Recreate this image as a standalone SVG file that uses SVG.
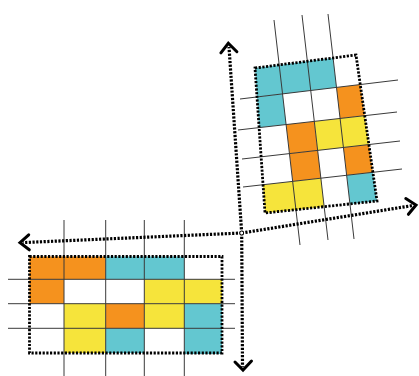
<svg xmlns="http://www.w3.org/2000/svg" width="419" height="376" viewBox="0 0 419 376">
<style>
.o{fill:#F5921E}
.c{fill:#63C7D0}
.y{fill:#F6E43B}
.g{stroke:#3a3a3a;stroke-width:1;fill:none}
.b{stroke:#000;stroke-width:2.8;stroke-dasharray:2.2 1.5;fill:none}
.ax{stroke:#000;stroke-width:3.2;stroke-dasharray:2.2 1.5;fill:none}
.ah{stroke:#000;stroke-width:3;fill:none;stroke-linecap:round;stroke-linejoin:miter}
</style>
<rect width="419" height="376" fill="#fff"/>
<g id="grid-upper">
<polygon class="c" points="255,68 279.2,64.9 307.4,61.2 333.1,57.9 336.5,87.4 310.8,90.5 282.6,93.9 257,97"/>
<polygon class="c" points="257,97 282.6,93.9 286.1,124.6 259.1,127.6"/>
<polygon class="o" points="336.5,87.4 360.3,84.6 364.7,115.7 340.1,118.5"/>
<polygon class="o" points="286.1,124.6 314.3,121.4 317.7,150.4 289.5,153.6"/>
<polygon class="y" points="314.3,121.4 340.1,118.5 364.7,115.7 368.9,144.5 343.4,147.5 317.7,150.4"/>
<polygon class="o" points="289.5,153.6 317.7,150.4 320.9,178.2 292.7,181.4"/>
<polygon class="o" points="343.4,147.5 368.9,144.5 372.9,172.4 346.7,175.3"/>
<polygon class="y" points="263,184.8 292.7,181.4 320.9,178.2 324.2,206.7 295.9,209.7 265,213"/>
<polygon class="c" points="346.7,175.3 372.9,172.4 377,201.1 350,204"/>
<line class="g" x1="274" y1="20" x2="300" y2="245"/>
<line class="g" x1="302" y1="15" x2="328" y2="240"/>
<line class="g" x1="328" y1="14" x2="354" y2="239"/>
<line class="g" x1="240" y1="99" x2="398" y2="80"/>
<line class="g" x1="238" y1="130" x2="397" y2="112"/>
<line class="g" x1="242" y1="159" x2="400" y2="141"/>
<line class="g" x1="243" y1="187" x2="402" y2="169"/>
<polygon class="b" points="255,68 356,55 377,201 265,213"/>
</g>
<g id="grid-lower">
<rect class="o" x="29.5" y="256.5" width="76.2" height="22.8"/>
<rect class="o" x="29.5" y="279.3" width="34.5" height="24.4"/>
<rect class="c" x="105.7" y="256.5" width="78.6" height="22.8"/>
<rect class="y" x="144.3" y="279.3" width="77.7" height="24.4"/>
<rect class="y" x="64" y="303.7" width="41.7" height="49.3"/>
<rect class="o" x="105.7" y="303.7" width="38.6" height="24.6"/>
<rect class="y" x="144.3" y="303.7" width="40" height="24.6"/>
<rect class="c" x="184.3" y="303.7" width="37.7" height="50.3"/>
<rect class="c" x="105.7" y="328.3" width="38.6" height="24.7"/>
<line class="g" x1="64" y1="220" x2="64" y2="376"/>
<line class="g" x1="105.7" y1="220" x2="105.7" y2="376"/>
<line class="g" x1="144.3" y1="220" x2="144.3" y2="376"/>
<line class="g" x1="184.3" y1="220" x2="184.3" y2="376"/>
<line class="g" x1="8" y1="279.3" x2="235" y2="279.3"/>
<line class="g" x1="8" y1="303.7" x2="235" y2="303.7"/>
<line class="g" x1="8" y1="328.3" x2="235" y2="328.3"/>
<rect class="b" x="29.5" y="256.5" width="192.5" height="96.5"/>
</g>
<g id="connectors">
<line class="ax" x1="241.7" y1="233" x2="229" y2="47"/>
<line class="ax" x1="241.7" y1="233" x2="242.5" y2="367"/>
<line class="ax" x1="241.7" y1="233" x2="23" y2="242.6"/>
<line class="ax" x1="241.7" y1="233" x2="413" y2="205.5"/>
<polyline class="ah" points="220.9,52.8 228.3,43.3 236.9,51.7"/>
<polyline class="ah" points="235,362 243,370 251.5,361"/>
<polyline class="ah" points="28.7,234.8 20,242.7 29.3,249.8"/>
<polyline class="ah" points="405.8,198.5 416,205 408.4,214.3"/>
<circle cx="241.7" cy="233" r="2" fill="#fff" stroke="#000" stroke-width="1"/>
</g>
</svg>
